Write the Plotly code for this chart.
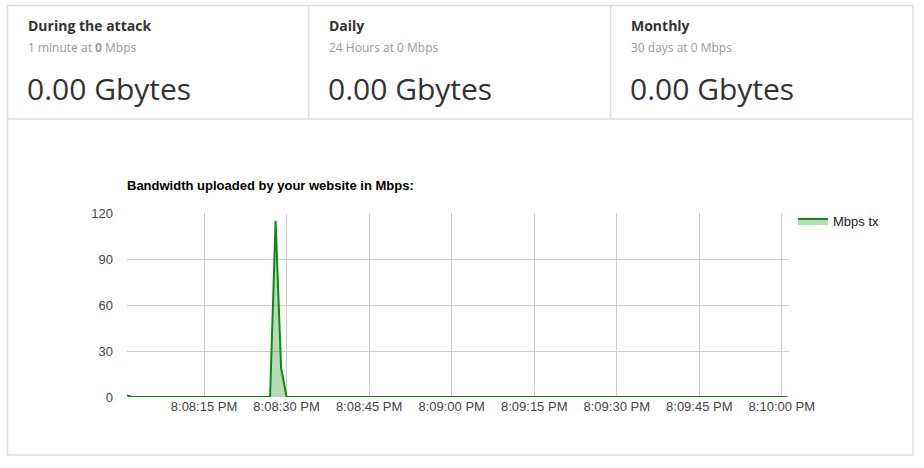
import plotly.graph_objects as go
import pandas as pd

# ---- data ----
start_time = "2017-01-01 20:08:01"
mbps_tx = [1] + [0] * 25 + [0, 115, 19, 0] + [0] * 91
times = pd.date_range(start_time, periods=len(mbps_tx), freq="1s")

card_titles = ["During the attack", "Daily", "Monthly"]
card_subtitles = ["1 minute at <b>0</b> Mbps", "24 Hours at 0 Mbps", "30 days at 0 Mbps"]
card_values = ["0.00 Gbytes", "0.00 Gbytes", "0.00 Gbytes"]
y_ticks = [0, 30, 60, 90, 120]

W, H = 924, 468
L, R, T, B = 127, 789, 213, 397

fig = go.Figure()
fig.add_trace(go.Scatter(
    x=times, y=mbps_tx, mode="lines", name="Mbps tx",
    line=dict(color="#118811", width=2),
    fill="tozeroy", fillcolor="rgba(17,136,17,0.3)",
))

def px(x):
    return (x - L) / (R - L)

def py(y):
    return (B - y) / (B - T)

shapes = []
border = "#dddddd"
shapes.append(dict(type="rect", xref="paper", yref="paper", x0=px(7.5), x1=px(913), y0=py(5.5), y1=py(455),
                   line=dict(color=border, width=1.5), layer="below"))
shapes.append(dict(type="line", xref="paper", yref="paper", x0=px(7.5), x1=px(913), y0=py(119), y1=py(119),
                   line=dict(color=border, width=1.5), layer="below"))
for xd in [308.5, 610.5]:
    shapes.append(dict(type="line", xref="paper", yref="paper", x0=px(xd), x1=px(xd), y0=py(5.5), y1=py(119),
                       line=dict(color=border, width=1.5), layer="below"))

annotations = []
card_x = [26, 327, 629]
for i in range(3):
    annotations.append(dict(x=px(card_x[i]), y=py(25.5), xref="paper", yref="paper", text="<b>" + card_titles[i] + "</b>",
                            showarrow=False, xanchor="left", yanchor="middle",
                            font=dict(family="Open Sans", size=14, color="#333333")))
    annotations.append(dict(x=px(card_x[i]), y=py(47.5), xref="paper", yref="paper", text=card_subtitles[i],
                            showarrow=False, xanchor="left", yanchor="middle",
                            font=dict(family="Open Sans", size=12, color="#999999")))
    annotations.append(dict(x=px(card_x[i] - 1), y=py(89), xref="paper", yref="paper", text=card_values[i],
                            showarrow=False, xanchor="left", yanchor="middle",
                            font=dict(family="Open Sans", size=30, color="#333333")))

annotations.append(dict(x=px(125), y=py(185), xref="paper", yref="paper",
                        text="<b>Bandwidth uploaded by your website in Mbps:</b>",
                        showarrow=False, xanchor="left", yanchor="middle",
                        font=dict(family="Liberation Sans, Arial", size=13, color="#000000")))

fig.update_layout(
    width=W, height=H,
    margin=dict(l=L, r=W - R, t=T, b=H - B, pad=0),
    paper_bgcolor="white", plot_bgcolor="white",
    font=dict(family="Liberation Sans, Arial", size=13, color="#444444"),
    shapes=shapes, annotations=annotations,
    showlegend=True,
    legend=dict(x=px(793), y=py(206), xanchor="left", yanchor="top",
                font=dict(family="Liberation Sans, Arial", size=13, color="#222222"),
                bgcolor="rgba(0,0,0,0)", itemwidth=30),
    xaxis=dict(
        type="date", range=[times[0], times[-1] + pd.Timedelta(milliseconds=300)],
        tick0="2017-01-01 20:08:15", dtick=15000, tickformat="%-I:%M:%S %p",
        showgrid=True, gridcolor="#cccccc", gridwidth=1,
        zeroline=False, showline=False, ticks="", ticklen=0,
        tickfont=dict(family="Liberation Sans, Arial", size=13, color="#444444"),
        fixedrange=True,
    ),
    yaxis=dict(
        range=[0, 120], tickvals=y_ticks, showgrid=True, gridcolor="#cccccc", gridwidth=1,
        zeroline=False, showline=False, ticks="", ticklabelstandoff=13,
        tickfont=dict(family="Liberation Sans, Arial", size=13, color="#444444"),
        fixedrange=True,
    ),
)

fig.write_html("out.html")
